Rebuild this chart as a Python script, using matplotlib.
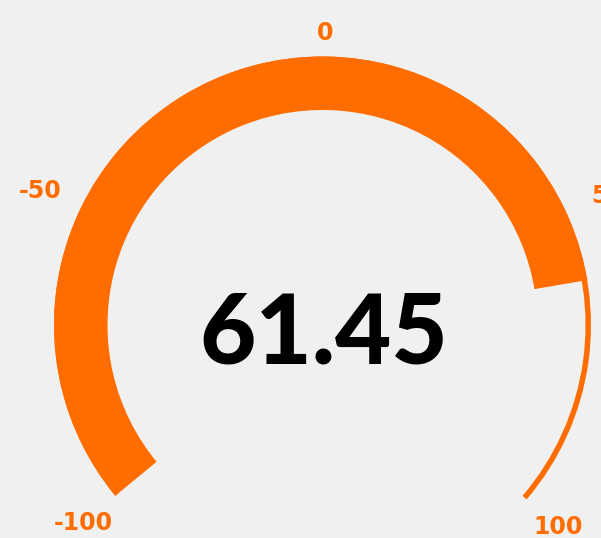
import matplotlib
matplotlib.use('Agg')
import matplotlib.pyplot as plt
from matplotlib.patches import Wedge
import numpy as np

# ---- data ----
axis_min = -100
axis_max = 100
tick_values = [-100, -50, 0, 50, 100]
tick_labels = ['-100', '-50', '0', '50', '100']
gauge_value = 61.45
detail_text = f"{gauge_value:.2f}"

# ---- style / layout ----
W, H = 601, 538
BG = '#F0F0F0'
ORANGE = '#FF6D00'
START_ANGLE = 219.5
END_ANGLE = -40.5
CX, CY = 322.5, H - 325
R_OUT = 268.5
BAR_WIDTH = 53.5
LINE_WIDTH = 5.5
LABEL_R0 = 293
LABEL_R_SIDE = 22


def val2ang(v):
    f = (v - axis_min) / (axis_max - axis_min)
    return START_ANGLE + f * (END_ANGLE - START_ANGLE)


fig = plt.figure(figsize=(W / 100, H / 100), dpi=100, facecolor=BG)
ax = fig.add_axes([0, 0, 1, 1])
ax.set_xlim(0, W)
ax.set_ylim(0, H)
ax.set_aspect('equal')
ax.axis('off')
ax.set_facecolor(BG)

# thin axis line (full range)
ax.add_patch(Wedge((CX, CY), R_OUT, val2ang(axis_max), val2ang(axis_min),
                   width=LINE_WIDTH, facecolor=ORANGE, edgecolor='none'))
# progress bar
ax.add_patch(Wedge((CX, CY), R_OUT, val2ang(gauge_value), val2ang(axis_min),
                   width=BAR_WIDTH, facecolor=ORANGE, edgecolor='none'))

# tick labels
for v, lab in zip(tick_values, tick_labels):
    a = np.deg2rad(val2ang(v))
    rho = LABEL_R0 + LABEL_R_SIDE * abs(np.cos(a))
    x = CX + rho * np.cos(a)
    y = CY + rho * np.sin(a)
    ax.text(x, y - 8, lab, ha='center', va='baseline', fontsize=17,
            fontweight='bold', color=ORANGE, family=['DejaVu Sans'])

# detail value
ax.text(CX + 1.5, CY - 38, detail_text, ha='center', va='baseline',
        fontsize=70, fontweight='black', color='black',
        family=['Lato', 'DejaVu Sans'])

fig.savefig('out.png', dpi=100, facecolor=BG)
